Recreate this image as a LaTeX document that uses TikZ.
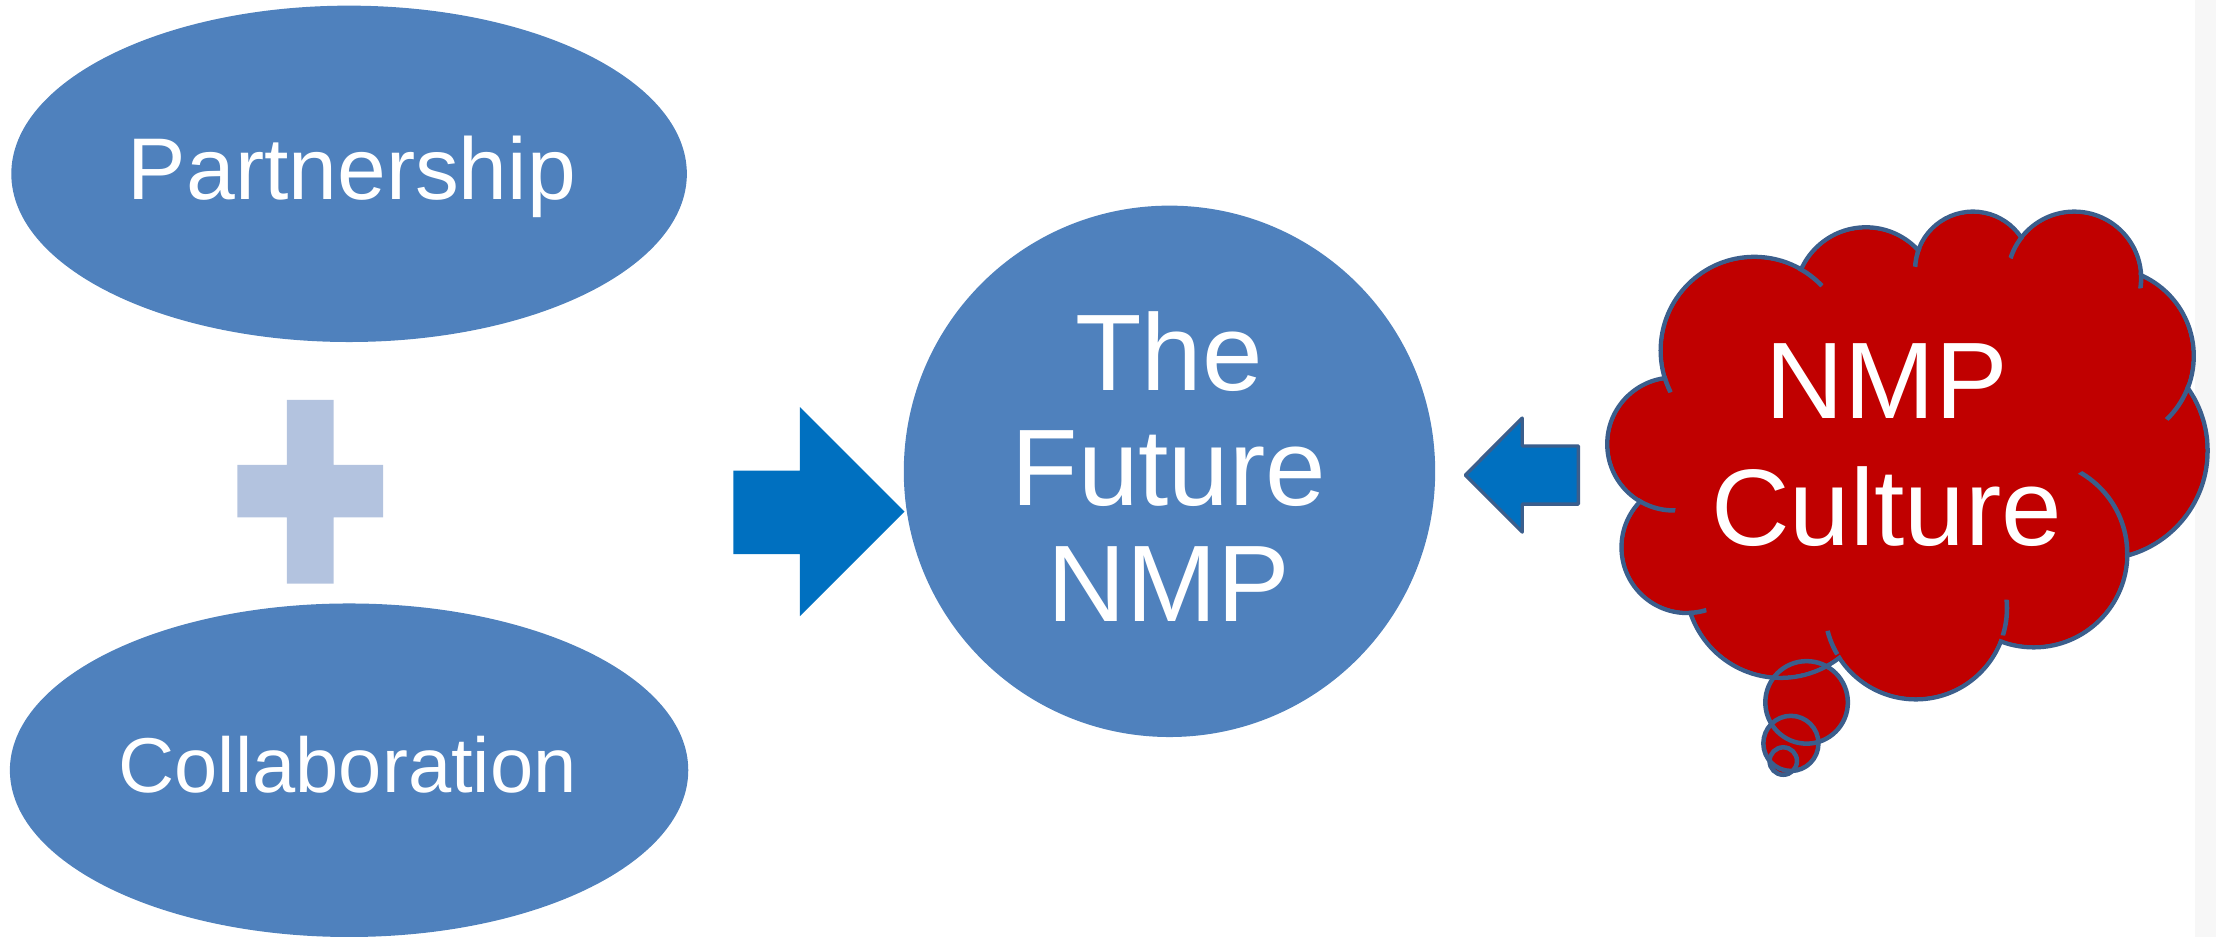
\documentclass[tikz,border=0pt]{standalone}
\usepackage{fontspec}
\setmainfont{Liberation Sans}
\usetikzlibrary{shapes.geometric}
\definecolor{shapeblue}{HTML}{4F81BD}
\definecolor{arrowblue}{HTML}{0070C0}
\definecolor{cloudred}{HTML}{C00000}
\definecolor{cloudedge}{HTML}{3B5E8C}
\definecolor{plusblue}{HTML}{B3C3DF}
\begin{document}
\begin{tikzpicture}[x=1pt,y=-1pt,
  lbl/.style={text=white, inner sep=0pt, anchor=base},
  cloudline/.style={draw=cloudedge, line width=3.2pt},
  blob/.style={fill=shapeblue, draw=none, inner sep=0pt},
]
\useasboundingbox (0,0) rectangle (1568,663);
\fill[black!3] (1553,0) rectangle (1568,663);

% ellipses
\node[blob, ellipse, minimum width=478pt, minimum height=238pt] (partner) at (247,123) {};
\node[blob, ellipse, minimum width=480pt, minimum height=236pt] (collab) at (247,545) {};
\node[lbl, font=\fontsize{62}{62}\selectfont] (partnertext) at (249,141.5) {Partnership};
\node[lbl, font=\fontsize{55}{55}\selectfont] (collabtext) at (246,561) {Collaboration};

% plus
\fill[plusblue] (203,283) -- (236,283) -- (236,329) -- (271,329) -- (271,366) -- (236,366)
  -- (236,413) -- (203,413) -- (203,366) -- (168,366) -- (168,329) -- (203,329) -- cycle;

% right arrow
\fill[arrowblue] (640,362) -- (566,288) -- (566,333) -- (519,333) -- (519,392) -- (566,392) -- (566,436) -- cycle;

% circle
\node[blob, circle, minimum size=376pt] (future) at (827.5,333.5) {};
\node[lbl, font=\fontsize{77}{77}\selectfont] (the) at (827,276) {The};
\node[lbl, font=\fontsize{77}{77}\selectfont] (fut) at (827,358) {Future};
\node[lbl, font=\fontsize{77}{77}\selectfont] (nmpa) at (827,440) {NMP};

% left arrow
\filldraw[fill=arrowblue, draw=cloudedge, line width=2.4pt, line join=round]
  (1036.8,336.2) -- (1077.1,295.8) -- (1077.1,315.6) -- (1116.8,315.6) -- (1116.8,356.7)
  -- (1077.1,356.7) -- (1077.1,376.5) -- cycle;

% cloud
\fill[cloudred] (1278.3,497) circle[radius=29.2];
\fill[cloudred] (1267.2,526) circle[radius=19.5];
\fill[cloudred] (1261.8,538.5) circle[radius=9.7];
\foreach \cx/\cy/\r in {1241.3/248.0/66.2, 1320.3/211.0/50.1, 1396.0/190.7/40.9,
  1467.7/197.1/47.3, 1489.9/251.9/62.3, 1485.2/318.9/76.8, 1439.0/391.8/66.2,
  1355.6/430.3/64.5, 1260.0/412.3/67.3, 1193.8/387.3/46.4, 1184.3/314.2/47.0}
  \filldraw[fill=cloudred, cloudline] (\cx,\cy) circle[radius=\r];
\fill[cloudred] (1241.3,248.0) -- (1320.3,211.0) -- (1396.0,190.7) -- (1467.7,197.1)
  -- (1489.9,251.9) -- (1485.2,318.9) -- (1439.0,391.8) -- (1355.6,430.3)
  -- (1260.0,412.3) -- (1193.8,387.3) -- (1184.3,314.2) -- cycle;
\foreach \cx/\cy/\r in {1241.3/248.0/66.2, 1320.3/211.0/50.1, 1396.0/190.7/40.9,
  1467.7/197.1/47.3, 1489.9/251.9/62.3, 1485.2/318.9/76.8, 1439.0/391.8/66.2,
  1355.6/430.3/64.5, 1260.0/412.3/67.3, 1193.8/387.3/46.4, 1184.3/314.2/47.0}
  {\pgfmathsetmacro\rr{\r-1.6}
   \fill[cloudred] (\cx,\cy) circle[radius=\rr];}
% inner tails of the cloud outline
\foreach \cx/\cy/\r/\mx/\my/\h in {
  1241.3/248.0/66.2/1281.8/195.0/10.4,
  1396.0/190.7/40.9/1356.2/181.8/7.2,
  1467.7/197.1/47.3/1426.4/174.9/8.8,
  1467.7/197.1/47.3/1514.0/198.5/5.7,
  1489.9/251.9/62.3/1541.2/285.4/14.1,
  1439.0/391.8/66.2/1489.0/363.9/34.3,
  1355.6/430.3/64.5/1418.8/437.0/12.8,
  1355.6/430.3/64.5/1295.8/455.0/9.2,
  1193.8/387.3/46.4/1201.2/432.8/6.4,
  1184.3/314.2/47.0/1172.0/358.4/13.7,
  1241.3/248.0/66.2/1179.8/272.0/6.2}
  {\begin{scope}
     \clip (\mx,\my) circle[radius=\h];
     \draw[cloudline] (\cx,\cy) circle[radius=\r];
   \end{scope}}
% thought bubbles outlines
\draw[cloudline] (1278.3,497) circle[radius=29.2];
\draw[cloudline] (1267.2,526) circle[radius=19.5];
\draw[cloudline] (1261.8,538.5) circle[radius=9.7];
\node[lbl, font=\fontsize{77}{77}\selectfont] (nmpb) at (1335,296) {NMP};
\node[lbl, font=\fontsize{77}{77}\selectfont] (culture) at (1335,386) {Culture};
\end{tikzpicture}
\end{document}
